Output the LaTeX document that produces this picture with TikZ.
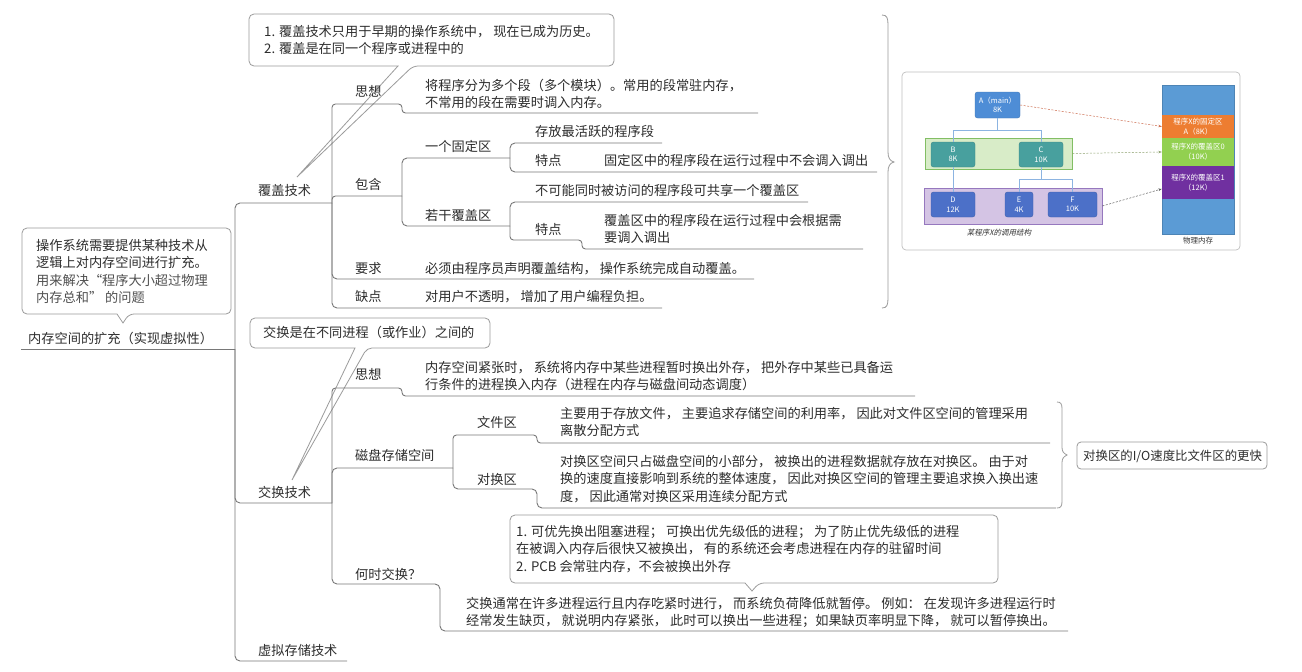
\documentclass[tikz,border=0pt]{standalone}
\usepackage{fontspec}
\newfontfamily\cjk{Noto Sans CJK SC}
\newfontfamily\cjkit[FakeSlant=0.22]{Noto Sans CJK SC}
\usetikzlibrary{arrows.meta}
\definecolor{txt}{RGB}{45,45,45}
\definecolor{txtl}{RGB}{80,80,80}
\definecolor{ln}{RGB}{120,120,120}
\definecolor{cl}{RGB}{155,155,155}
\definecolor{abox}{RGB}{78,141,214}
\definecolor{bcbox}{RGB}{72,160,158}
\definecolor{defbox}{RGB}{76,112,200}
\definecolor{lnblue}{RGB}{140,180,225}
\definecolor{gband}{RGB}{216,236,200}
\definecolor{gbandb}{RGB}{130,190,100}
\definecolor{pband}{RGB}{212,196,228}
\definecolor{pbandb}{RGB}{150,120,190}
\definecolor{mem}{RGB}{91,155,213}
\definecolor{memo}{RGB}{237,125,49}
\definecolor{memg}{RGB}{146,208,80}
\definecolor{memp}{RGB}{112,48,160}
\newcommand\mlines[1]{\vtop{\halign{##\hfil\cr#1\crcr}}}
\begin{document}
\begin{tikzpicture}[x=1pt,y=-1pt,
  t/.style={anchor=base west, inner sep=0pt, font=\cjk\fontsize{13.2}{17.5}\selectfont, text=txt},
  conn/.style={draw=ln, line width=0.9pt, rounded corners=5pt},
  connsm/.style={draw=ln, line width=0.9pt, rounded corners=3.5pt},
  callout/.style={draw=cl, line width=0.8pt, fill=white, rounded corners=5pt},
  brace/.style={draw=cl, line width=0.8pt},
  dbox/.style={rounded corners=2.5pt, inner sep=0pt, align=center, text=white,
     font=\cjk\fontsize{7.5}{9.5}\selectfont},
  band/.style={inner sep=0pt, line width=0.7pt},
  memsec/.style={inner sep=0pt, minimum width=72pt, align=center, text=white,
     font=\cjk\fontsize{7.5}{10}\selectfont},
  darr/.style={dashed, dash pattern=on 2pt off 1.5pt, line width=0.5pt, -{Stealth[length=3.5pt,width=2.5pt]}}
]
\useasboundingbox (0,0) rectangle (1302,672);
\fill[white] (0,0) rectangle (1302,672);

% ---------- callouts ----------
\draw[callout] (22,270) -- (22,228) -- (231,228) -- (231,314) -- (129,314) [sharp corners] -- (123,323) -- (117,314) [rounded corners=5pt] -- (22,314) -- cycle;
\draw[callout] (249,40) -- (249,14) -- (614,14) -- (614,66) -- (413,66) [sharp corners] -- (297,177) -- (398,66) [rounded corners=5pt] -- (249,66) -- cycle;
\draw[callout] (250,333) -- (250,318) -- (490,318) -- (490,348) -- (367,348) [sharp corners] -- (292,480) -- (355,348) [rounded corners=5pt] -- (250,348) -- cycle;
\draw[callout] (510,550) -- (510,515) -- (998,515) -- (998,583) -- (759,583) [sharp corners] -- (752,591) -- (745,583) [rounded corners=5pt] -- (510,583) -- cycle;
\draw[callout, rounded corners=4pt] (1077,442) rectangle (1267,469);

% ---------- coordinates of underline ends ----------
\coordinate (R0) at (235,349);
\coordinate (F0) at (332,203);
\coordinate (J0) at (332,503);
\coordinate (BH) at (402,196);
\coordinate (GD) at (510,158);
\coordinate (RG) at (510,226);
\coordinate (CP) at (453,468);

% ---------- connectors ----------
\draw[conn] (21,349) -- (R0);
\draw[conn] (R0) -- (235,203) -- (F0);
\draw[conn] (R0) -- (235,503) -- (J0);
\draw[conn] (R0) -- (235,661) -- (347,661);
% overlay branch
\draw[connsm] (F0) -- (332,104) -- (402,104) -- (402,113) -- (758,113);
\draw[connsm] (F0) -- (332,196) -- (BH);
\draw[conn] (BH) -- (402,158) -- (GD);
\draw[conn] (GD) -- (510,143) -- (662,143);
\draw[conn] (GD) -- (510,172) -- (877,172);
\draw[conn] (BH) -- (402,226) -- (RG);
\draw[conn] (RG) -- (510,202) -- (808,202);
\draw[connsm] (RG) -- (510,240) -- (582,240) -- (582,249) -- (863,249);
\draw[conn] (F0) -- (332,279) -- (754,279);
\draw[conn] (F0) -- (332,308) -- (662,308);
% swap branch
\draw[connsm] (J0) -- (332,388) -- (402,388) -- (402,396) -- (915,396);
\draw[conn] (J0) -- (332,468) -- (CP);
\draw[connsm] (CP) -- (453,435) -- (537,435) -- (537,443) -- (1050,443);
\draw[conn] (CP) -- (453,489) -- (537,489) -- (537,508) -- (1056,508);
\draw[conn] (J0) -- (332,584) -- (440,584) -- (440,631) -- (1068,631);

% ---------- braces ----------
\draw[brace] (882,15) .. controls (887,15) and (888,18) .. (888,25) -- (888,152) .. controls (888,158) and (890,161) .. (894,162) .. controls (890,163) and (888,166) .. (888,172) -- (888,298) .. controls (888,305) and (887,308) .. (882,308);
\draw[brace] (1057,402) .. controls (1061,402) and (1062,404) .. (1062,409) -- (1062,447) .. controls (1062,451) and (1063,453) .. (1067,455) .. controls (1063,457) and (1062,459) .. (1062,463) -- (1062,501) .. controls (1062,506) and (1061,508) .. (1057,508);

% ---------- texts ----------
\node[t] (root) at (28,343) {内存空间的扩充（实现虚拟性）};
\node[t] (rootnote) at (36,250) {\mlines{操作系统需要提供某种技术从\cr 逻辑上对内存空间进行扩充。\cr {\color{txtl}用来解决“程序大小超过物理}\cr {\color{txtl}内存总和” 的问题}}};

\node[t] (fugai) at (258,195) {覆盖技术};
\node[t] (fugainote) at (264,36) {\mlines{1. 覆盖技术只用于早期的操作系统中， 现在已成为历史。\cr 2. 覆盖是在同一个程序或进程中的}};
\node[t] (sx1) at (355,96) {思想};
\node[t] (sx1c) at (425,90) {\mlines{将程序分为多个段（多个模块）。常用的段常驻内存，\cr 不常用的段在需要时调入内存。}};
\node[t] (bh) at (355,189) {包含};
\node[t] (gd) at (425,151) {一个固定区};
\node[t] (rg) at (425,220) {若干覆盖区};
\node[t] (cf) at (535,136) {存放最活跃的程序段};
\node[t] (td1) at (535,165) {特点};
\node[t] (td1c) at (604,165) {固定区中的程序段在运行过程中不会调入调出};
\node[t] (bkn) at (535,195) {不可能同时被访问的程序段可共享一个覆盖区};
\node[t] (td2) at (535,234) {特点};
\node[t] (td2c) at (604,225) {\mlines{覆盖区中的程序段在运行过程中会根据需\cr 要调入调出}};
\node[t] (yq) at (355,273) {要求};
\node[t] (yqc) at (425,273) {必须由程序员声明覆盖结构， 操作系统完成自动覆盖。};
\node[t] (qd) at (355,301) {缺点};
\node[t] (qdc) at (425,301) {对用户不透明， 增加了用户编程负担。};

\node[t] (jh) at (258,497) {交换技术};
\node[t] (jhnote) at (263,337) {交换是在不同进程（或作业）之间的};
\node[t] (sx2) at (355,379) {思想};
\node[t] (sx2c) at (425,372) {\mlines{内存空间紧张时， 系统将内存中某些进程暂时换出外存， 把外存中某些已具备运\cr 行条件的进程换入内存（进程在内存与磁盘间动态调度）}};
\node[t] (cp) at (355,460) {磁盘存储空间};
\node[t] (wj) at (477,427) {文件区};
\node[t] (wjc) at (560,418) {\mlines{主要用于存放文件， 主要追求存储空间的利用率， 因此对文件区空间的管理采用\cr 离散分配方式}};
\node[t] (dh) at (477,484) {对换区};
\node[t] (dhc) at (560,466) {\mlines{对换区空间只占磁盘空间的小部分， 被换出的进程数据就存放在对换区。 由于对\cr 换的速度直接影响到系统的整体速度， 因此对换区空间的管理主要追求换入换出速\cr 度， 因此通常对换区采用连续分配方式}};
\node[t, font=\cjk\fontsize{12.4}{16}\selectfont] (dhsum) at (1083,460) {对换区的I/O速度比文件区的更快};
\node[t] (hs) at (355,579) {何时交换？};
\node[t] (hsnote) at (516,536) {\mlines{1. 可优先换出阻塞进程； 可换出优先级低的进程； 为了防止优先级低的进程\cr 在被调入内存后很快又被换出， 有的系统还会考虑进程在内存的驻留时间\cr 2. PCB 会常驻内存，不会被换出外存}};
\node[t] (hsc) at (466,608) {\mlines{交换通常在许多进程运行且内存吃紧时进行， 而系统负荷降低就暂停。 例如： 在发现许多进程运行时\cr 经常发生缺页， 就说明内存紧张， 此时可以换出一些进程；如果缺页率明显下降， 就可以暂停换出。}};
\node[t] (xn) at (258,655) {虚拟存储技术};

% ---------- overlay picture ----------
\draw[rounded corners=4pt, draw=black!25, line width=0.7pt] (902,72) rectangle (1240,250);
% memory column
\node[inner sep=0pt, minimum width=72pt, minimum height=149pt, fill=mem, draw=mem!85!black, line width=0.4pt] (memcol) at (1198,159.5) {};
\node[memsec, minimum height=23pt, fill=memo] (mo) at (1198,126.5) {程序X的固定区\\A（8K）};
\node[memsec, minimum height=28pt, fill=memg] (mg) at (1198,152) {程序X的覆盖区0\\（10K）};
\node[memsec, minimum height=33pt, fill=memp] (mp) at (1198,182.5) {程序X的覆盖区1\\（12K）};
\node[font=\cjk\fontsize{7.5}{9}\selectfont, text=black!80, inner sep=0pt] (memcap) at (1198,241) {物理内存};
% bands
\node[band, minimum width=147pt, minimum height=31pt, fill=gband, draw=gbandb] (gb) at (998.5,153.5) {};
\node[band, minimum width=178pt, minimum height=36pt, fill=pband, draw=pbandb] (pb) at (1013,206) {};
% boxes
\node[dbox, minimum width=45pt, minimum height=26pt, fill=abox, draw=abox!85!black] (A) at (997.5,105) {A（main）\\8K};
\node[dbox, minimum width=44pt, minimum height=25pt, fill=bcbox, draw=bcbox!85!black] (B) at (953,154.5) {B\\8K};
\node[dbox, minimum width=44pt, minimum height=25pt, fill=bcbox, draw=bcbox!85!black] (C) at (1041,154.5) {C\\10K};
\node[dbox, minimum width=44pt, minimum height=25pt, fill=defbox, draw=defbox!85!black] (D) at (953,204.5) {D\\12K};
\node[dbox, minimum width=28pt, minimum height=25pt, fill=defbox, draw=defbox!85!black] (E) at (1019,204.5) {E\\4K};
\node[dbox, minimum width=49pt, minimum height=25pt, fill=defbox, draw=defbox!85!black] (F) at (1072.5,204.5) {F\\10K};
\node[font=\cjkit\fontsize{7.5}{9}\selectfont, text=black!80, inner sep=0pt] (cap) at (999,233) {某程序X的调用结构};
% tree lines
\draw[lnblue, line width=0.8pt] (A.south) -- ++(0,12) -| (B.north);
\draw[lnblue, line width=0.8pt] (A.south) -- ++(0,12) -| (C.north);
\draw[lnblue, line width=0.8pt] (B.south) -- (D.north);
\draw[lnblue, line width=0.8pt] (C.south) -- ++(0,12) -| (E.north);
\draw[lnblue, line width=0.8pt] (C.south) -- ++(0,12) -| (F.north);
% dashed arrows
\draw[darr, draw={rgb,255:red,205;green,110;blue,80}] (A.east) -- (mo.west);
\draw[darr, draw={rgb,255:red,140;green,160;blue,110}] (gb.east) -- (mg.west);
\draw[darr, draw=black!65] (pb.east) -- (mp.190);
\end{tikzpicture}
\end{document}
